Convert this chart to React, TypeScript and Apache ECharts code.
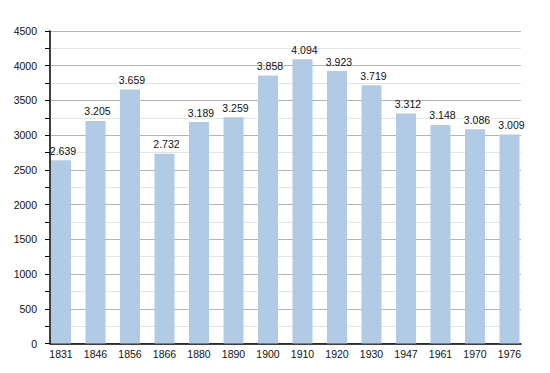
import React, { useEffect, useRef } from "react";
import * as echarts from "echarts";

const years = ["1831", "1846", "1856", "1866", "1880", "1890", "1900", "1910", "1920", "1930", "1947", "1961", "1970", "1976"];
const population = [2639, 3205, 3659, 2732, 3189, 3259, 3858, 4094, 3923, 3719, 3312, 3148, 3086, 3009];
const yMin = 0;
const yMax = 4500;
const yStep = 500;

const fmt = (v: number) => {
  const s = String(v);
  return s.length > 3 ? s.slice(0, s.length - 3) + "." + s.slice(s.length - 3) : s;
};

export default function App() {
  const ref = useRef<HTMLDivElement>(null);
  useEffect(() => {
    if (!ref.current) return;
    const chart = echarts.init(ref.current, null, { renderer: "svg" });
    const font = "Liberation Sans, Arial, Helvetica, sans-serif";
    chart.setOption({
      animation: false,
      backgroundColor: "#ffffff",
      grid: [
        { left: 50, right: 29, top: 31, bottom: 29.5 },
        { left: 61, right: 40.5, top: 31, bottom: 29.5 },
      ],
      xAxis: [
        {
          type: "category",
          gridIndex: 0,
          data: years,
          axisLine: { show: true, lineStyle: { color: "#000", width: 1.5 } },
          axisTick: { show: false },
          axisLabel: { show: false },
          splitLine: { show: false },
        },
        {
          type: "category",
          gridIndex: 1,
          data: years,
          boundaryGap: false,
          axisLine: { show: false },
          axisTick: { show: false },
          axisLabel: { show: true, color: "#111", fontSize: 10.5, fontFamily: font, margin: 5, interval: 0 },
          splitLine: { show: false },
        },
      ],
      yAxis: [
        {
          type: "value",
          gridIndex: 0,
          min: yMin,
          max: yMax,
          interval: yStep,
          axisLine: { show: true, lineStyle: { color: "#000", width: 1.5 } },
          axisTick: { show: true, length: 5, lineStyle: { color: "#000" } },
          minorTick: { show: true, splitNumber: 2, length: 5, lineStyle: { color: "#000" } },
          axisLabel: { color: "#111", fontSize: 10.5, fontFamily: font, margin: 13, formatter: (v: number) => String(v) },
          splitLine: { show: true, lineStyle: { color: "#b4b4b4", width: 1 } },
          minorSplitLine: { show: true, lineStyle: { color: "#e4e4e4", width: 1 } },
        },
        {
          type: "value",
          gridIndex: 1,
          min: yMin,
          max: yMax,
          interval: yStep,
          show: false,
          splitLine: { show: false },
        },
      ],
      series: [
        {
          type: "bar",
          xAxisIndex: 1,
          yAxisIndex: 1,
          data: population,
          barWidth: 20,
          clip: false,
          itemStyle: { color: "#b1cae6" },
          label: {
            show: true,
            position: "top",
            distance: 4,
            offset: [2, 0],
            color: "#111",
            fontSize: 10.5,
            fontFamily: font,
            formatter: (p: any) => fmt(p.value),
          },
        },
      ],
    });
    return () => chart.dispose();
  }, []);
  return <div ref={ref} style={{ width: 550, height: 373, position: "absolute", left: 0, top: 0 }} />;
}
